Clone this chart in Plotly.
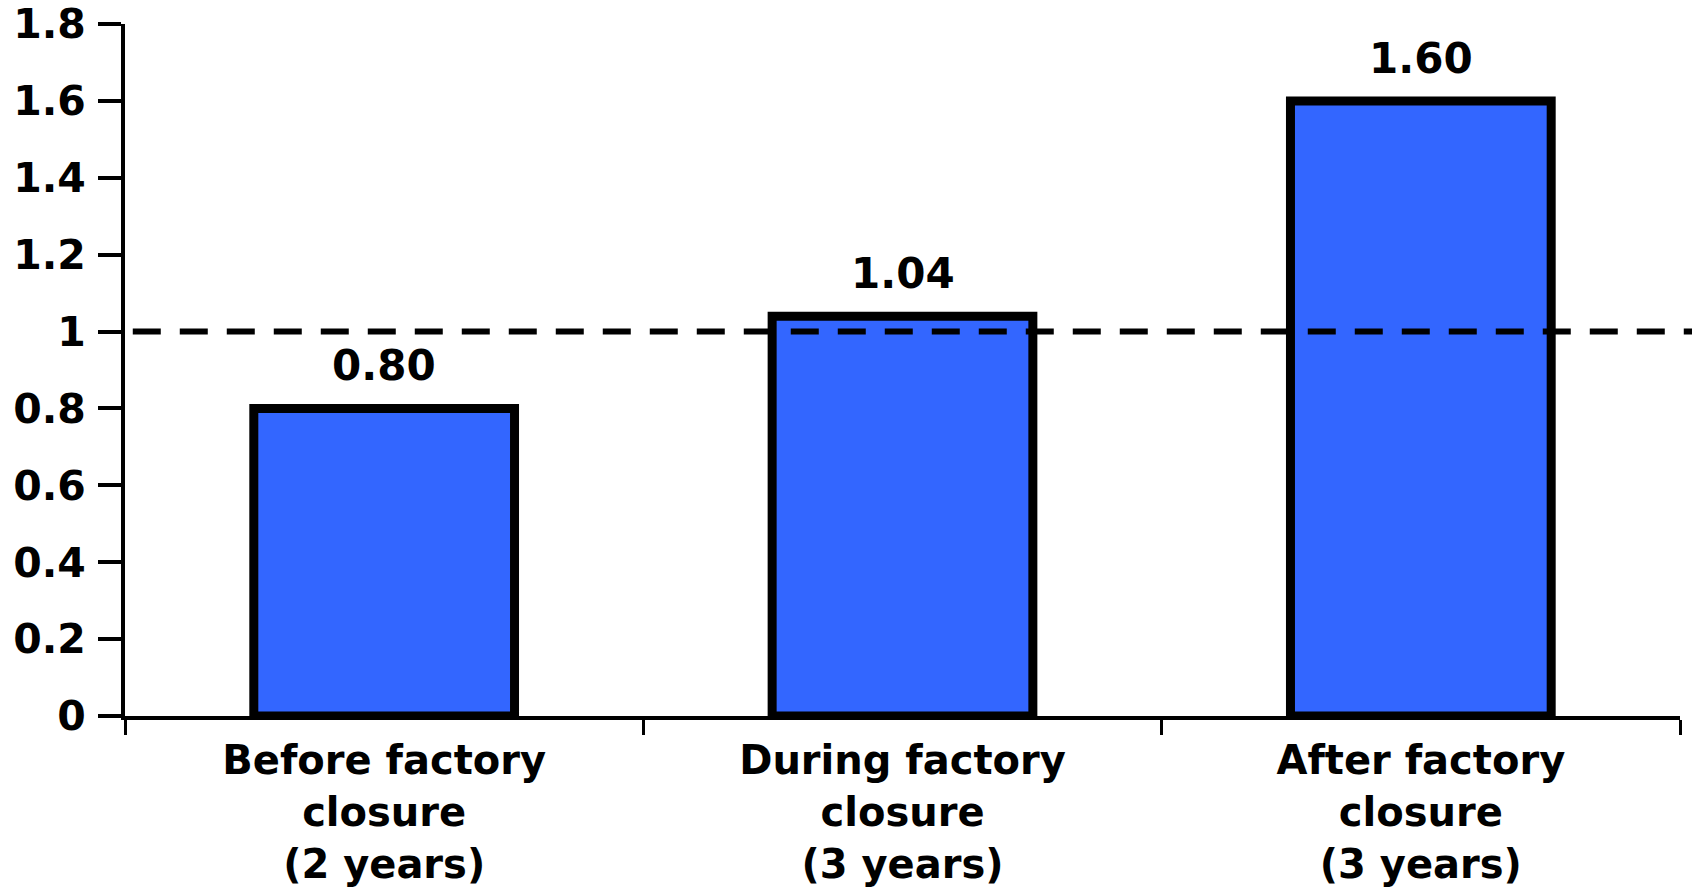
import plotly.graph_objects as go

# Period of observation relative to the factory closure
periods = [
    "Before factory<br>closure<br>(2 years)",
    "During factory<br>closure<br>(3 years)",
    "After factory<br>closure<br>(3 years)",
]
ratios = [0.80, 1.04, 1.60]
reference_level = 1.0

y_ticks = [0, 0.2, 0.4, 0.6, 0.8, 1.0, 1.2, 1.4, 1.6, 1.8]
y_tick_text = ["0", "0.2", "0.4", "0.6", "0.8", "1", "1.2", "1.4", "1.6", "1.8"]

FONT = "DejaVu Sans"

fig = go.Figure()
fig.add_trace(
    go.Bar(
        x=periods,
        y=ratios,
        marker=dict(color="#3366FF", line=dict(color="black", width=9)),
        hoverinfo="x+y",
    )
)

# value labels above each bar
for p, v in zip(periods, ratios):
    fig.add_annotation(
        x=p, y=v, text=f"{v:.2f}", showarrow=False,
        yanchor="bottom", yshift=16,
        font=dict(family=FONT, size=42, color="black", weight="bold"),
    )

# dashed reference line at ratio = 1
fig.add_shape(
    type="line", xref="paper", yref="y",
    x0=0.005, x1=1.008, y0=reference_level, y1=reference_level,
    line=dict(color="black", width=6, dash="28px,19px"),
)

fig.update_layout(
    width=1692, height=887,
    margin=dict(l=125, r=12, t=24, b=171, pad=0),
    plot_bgcolor="white", paper_bgcolor="white",
    bargap=0.497,
    showlegend=False,
)
fig.update_xaxes(
    type="category", automargin=False,
    showgrid=False, zeroline=False,
    showline=True, linecolor="black", linewidth=4,
    ticks="outside", tickson="boundaries", ticklen=15, tickwidth=3, tickcolor="black",
    ticklabelstandoff=6,
    tickfont=dict(family=FONT, size=40, color="black", weight="bold"),
)
fig.update_yaxes(
    range=[0, 1.8], automargin=False,
    tickvals=y_ticks, ticktext=y_tick_text,
    showgrid=False, zeroline=False,
    showline=True, linecolor="black", linewidth=4,
    ticks="outside", ticklen=23, tickwidth=3.5, tickcolor="black",
    ticklabelstandoff=4, ticklabeloverflow="allow",
    tickfont=dict(family=FONT, size=41, color="black", weight="bold"),
)

fig.write_html("out.html")
